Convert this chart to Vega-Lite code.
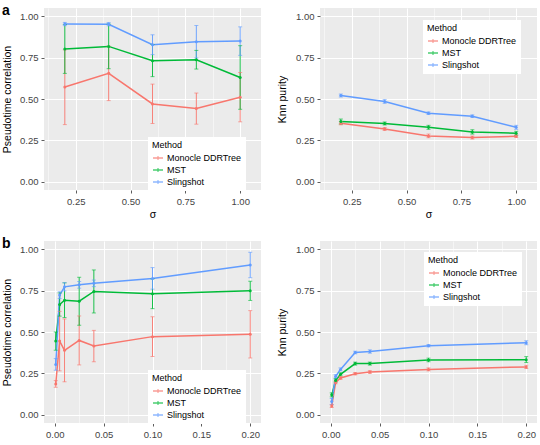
{
  "$schema": "https://vega.github.io/schema/vega-lite/v6.json",
  "padding": {"left": 2, "top": 3, "right": 0, "bottom": 0},
  "bounds": "flush",
  "columns": 2,
  "spacing": {"row": 51, "column": 59},
  "resolve": {"scale": {"color": "independent"}, "legend": {"color": "independent"}},
  "datasets": {
    "rows": [
      {"panel": "A", "method": "Monocle DDRTree", "x": 0.2, "y": 0.572, "lo": 0.345, "hi": 0.797},
      {"panel": "A", "method": "Monocle DDRTree", "x": 0.4, "y": 0.655, "lo": 0.49, "hi": 0.82},
      {"panel": "A", "method": "Monocle DDRTree", "x": 0.6, "y": 0.47, "lo": 0.352, "hi": 0.59},
      {"panel": "A", "method": "Monocle DDRTree", "x": 0.8, "y": 0.442, "lo": 0.348, "hi": 0.536},
      {"panel": "A", "method": "Monocle DDRTree", "x": 1.0, "y": 0.511, "lo": 0.362, "hi": 0.66},
      {"panel": "A", "method": "MST", "x": 0.2, "y": 0.802, "lo": 0.655, "hi": 0.95},
      {"panel": "A", "method": "MST", "x": 0.4, "y": 0.818, "lo": 0.683, "hi": 0.953},
      {"panel": "A", "method": "MST", "x": 0.6, "y": 0.731, "lo": 0.635, "hi": 0.83},
      {"panel": "A", "method": "MST", "x": 0.8, "y": 0.737, "lo": 0.681, "hi": 0.794},
      {"panel": "A", "method": "MST", "x": 1.0, "y": 0.63, "lo": 0.438, "hi": 0.822},
      {"panel": "A", "method": "Slingshot", "x": 0.2, "y": 0.953, "lo": 0.943, "hi": 0.963},
      {"panel": "A", "method": "Slingshot", "x": 0.4, "y": 0.952, "lo": 0.942, "hi": 0.962},
      {"panel": "A", "method": "Slingshot", "x": 0.6, "y": 0.828, "lo": 0.768, "hi": 0.888},
      {"panel": "A", "method": "Slingshot", "x": 0.8, "y": 0.846, "lo": 0.748, "hi": 0.944},
      {"panel": "A", "method": "Slingshot", "x": 1.0, "y": 0.85, "lo": 0.764, "hi": 0.936},

      {"panel": "B", "method": "Monocle DDRTree", "x": 0.2, "y": 0.354, "lo": 0.344, "hi": 0.364},
      {"panel": "B", "method": "Monocle DDRTree", "x": 0.4, "y": 0.319, "lo": 0.31, "hi": 0.328},
      {"panel": "B", "method": "Monocle DDRTree", "x": 0.6, "y": 0.277, "lo": 0.266, "hi": 0.288},
      {"panel": "B", "method": "Monocle DDRTree", "x": 0.8, "y": 0.267, "lo": 0.258, "hi": 0.276},
      {"panel": "B", "method": "Monocle DDRTree", "x": 1.0, "y": 0.275, "lo": 0.267, "hi": 0.283},
      {"panel": "B", "method": "MST", "x": 0.2, "y": 0.364, "lo": 0.349, "hi": 0.379},
      {"panel": "B", "method": "MST", "x": 0.4, "y": 0.352, "lo": 0.343, "hi": 0.361},
      {"panel": "B", "method": "MST", "x": 0.6, "y": 0.329, "lo": 0.317, "hi": 0.341},
      {"panel": "B", "method": "MST", "x": 0.8, "y": 0.301, "lo": 0.288, "hi": 0.314},
      {"panel": "B", "method": "MST", "x": 1.0, "y": 0.293, "lo": 0.281, "hi": 0.305},
      {"panel": "B", "method": "Slingshot", "x": 0.2, "y": 0.521, "lo": 0.512, "hi": 0.53},
      {"panel": "B", "method": "Slingshot", "x": 0.4, "y": 0.485, "lo": 0.474, "hi": 0.496},
      {"panel": "B", "method": "Slingshot", "x": 0.6, "y": 0.414, "lo": 0.406, "hi": 0.422},
      {"panel": "B", "method": "Slingshot", "x": 0.8, "y": 0.396, "lo": 0.388, "hi": 0.404},
      {"panel": "B", "method": "Slingshot", "x": 1.0, "y": 0.329, "lo": 0.317, "hi": 0.341},

      {"panel": "C", "method": "Monocle DDRTree", "x": 0.001, "y": 0.186, "lo": 0.166, "hi": 0.206},
      {"panel": "C", "method": "Monocle DDRTree", "x": 0.005, "y": 0.445, "lo": 0.265, "hi": 0.625},
      {"panel": "C", "method": "Monocle DDRTree", "x": 0.01, "y": 0.389, "lo": 0.199, "hi": 0.579},
      {"panel": "C", "method": "Monocle DDRTree", "x": 0.025, "y": 0.449, "lo": 0.301, "hi": 0.597},
      {"panel": "C", "method": "Monocle DDRTree", "x": 0.04, "y": 0.415, "lo": 0.32, "hi": 0.51},
      {"panel": "C", "method": "Monocle DDRTree", "x": 0.1, "y": 0.472, "lo": 0.352, "hi": 0.592},
      {"panel": "C", "method": "Monocle DDRTree", "x": 0.2, "y": 0.486, "lo": 0.343, "hi": 0.629},
      {"panel": "C", "method": "MST", "x": 0.001, "y": 0.445, "lo": 0.39, "hi": 0.5},
      {"panel": "C", "method": "MST", "x": 0.005, "y": 0.666, "lo": 0.596, "hi": 0.736},
      {"panel": "C", "method": "MST", "x": 0.01, "y": 0.692, "lo": 0.587, "hi": 0.797},
      {"panel": "C", "method": "MST", "x": 0.025, "y": 0.686, "lo": 0.541, "hi": 0.831},
      {"panel": "C", "method": "MST", "x": 0.04, "y": 0.745, "lo": 0.615, "hi": 0.875},
      {"panel": "C", "method": "MST", "x": 0.1, "y": 0.731, "lo": 0.641, "hi": 0.821},
      {"panel": "C", "method": "MST", "x": 0.2, "y": 0.749, "lo": 0.691, "hi": 0.807},
      {"panel": "C", "method": "Slingshot", "x": 0.001, "y": 0.304, "lo": 0.269, "hi": 0.339},
      {"panel": "C", "method": "Slingshot", "x": 0.005, "y": 0.723, "lo": 0.703, "hi": 0.743},
      {"panel": "C", "method": "Slingshot", "x": 0.01, "y": 0.773, "lo": 0.748, "hi": 0.798},
      {"panel": "C", "method": "Slingshot", "x": 0.025, "y": 0.785, "lo": 0.765, "hi": 0.805},
      {"panel": "C", "method": "Slingshot", "x": 0.04, "y": 0.794, "lo": 0.774, "hi": 0.814},
      {"panel": "C", "method": "Slingshot", "x": 0.1, "y": 0.824, "lo": 0.759, "hi": 0.889},
      {"panel": "C", "method": "Slingshot", "x": 0.2, "y": 0.905, "lo": 0.828, "hi": 0.982},

      {"panel": "D", "method": "Monocle DDRTree", "x": 0.001, "y": 0.052, "lo": 0.044, "hi": 0.06},
      {"panel": "D", "method": "Monocle DDRTree", "x": 0.005, "y": 0.195, "lo": 0.187, "hi": 0.203},
      {"panel": "D", "method": "Monocle DDRTree", "x": 0.01, "y": 0.222, "lo": 0.214, "hi": 0.23},
      {"panel": "D", "method": "Monocle DDRTree", "x": 0.025, "y": 0.248, "lo": 0.241, "hi": 0.255},
      {"panel": "D", "method": "Monocle DDRTree", "x": 0.04, "y": 0.258, "lo": 0.25, "hi": 0.266},
      {"panel": "D", "method": "Monocle DDRTree", "x": 0.1, "y": 0.274, "lo": 0.265, "hi": 0.283},
      {"panel": "D", "method": "Monocle DDRTree", "x": 0.2, "y": 0.289, "lo": 0.279, "hi": 0.299},
      {"panel": "D", "method": "MST", "x": 0.001, "y": 0.12, "lo": 0.108, "hi": 0.132},
      {"panel": "D", "method": "MST", "x": 0.005, "y": 0.207, "lo": 0.197, "hi": 0.217},
      {"panel": "D", "method": "MST", "x": 0.01, "y": 0.244, "lo": 0.235, "hi": 0.253},
      {"panel": "D", "method": "MST", "x": 0.025, "y": 0.309, "lo": 0.3, "hi": 0.318},
      {"panel": "D", "method": "MST", "x": 0.04, "y": 0.309, "lo": 0.3, "hi": 0.318},
      {"panel": "D", "method": "MST", "x": 0.1, "y": 0.331, "lo": 0.32, "hi": 0.342},
      {"panel": "D", "method": "MST", "x": 0.2, "y": 0.333, "lo": 0.315, "hi": 0.351},
      {"panel": "D", "method": "Slingshot", "x": 0.001, "y": 0.08, "lo": 0.062, "hi": 0.098},
      {"panel": "D", "method": "Slingshot", "x": 0.005, "y": 0.232, "lo": 0.222, "hi": 0.242},
      {"panel": "D", "method": "Slingshot", "x": 0.01, "y": 0.274, "lo": 0.265, "hi": 0.283},
      {"panel": "D", "method": "Slingshot", "x": 0.025, "y": 0.376, "lo": 0.368, "hi": 0.384},
      {"panel": "D", "method": "Slingshot", "x": 0.04, "y": 0.382, "lo": 0.372, "hi": 0.392},
      {"panel": "D", "method": "Slingshot", "x": 0.1, "y": 0.417, "lo": 0.41, "hi": 0.424},
      {"panel": "D", "method": "Slingshot", "x": 0.2, "y": 0.435, "lo": 0.423, "hi": 0.447}
    ]
  },
  "concat": [
    {
      "width": 217, "height": 182,
      "title": {"text": "a"},
      "data": {"name": "rows"},
      "transform": [{"filter": "datum.panel === 'A'"}],
      "encoding": {
        "x": {"field": "x", "type": "quantitative", "title": "σ",
          "scale": {"domain": [0.105, 1.095], "nice": false, "zero": false},
          "axis": {"values": [0.125, 0.25, 0.375, 0.5, 0.625, 0.75, 0.875, 1.0],
            "labelExpr": "round(datum.value*8)%2===1 ? '' : format(datum.value, '.2f')",
            "gridWidth": {"condition": {"test": "round(datum.value*8)%2===1", "value": 0.5}, "value": 1},
            "tickOpacity": {"condition": {"test": "round(datum.value*8)%2===1", "value": 0}, "value": 1},
            "titleY": 27, "titleBaseline": "alphabetic"}},
        "color": {"field": "method", "type": "nominal",
          "scale": {"domain": ["Monocle DDRTree", "MST", "Slingshot"], "range": ["#F8766D", "#00BA38", "#619CFF"]},
          "legend": {"title": "Method", "legendX": 104, "legendY": 129}}
      },
      "layer": [
        {"mark": {"type": "line", "strokeWidth": 1.5},
          "encoding": {"y": {"field": "y", "type": "quantitative", "title": "Pseudotime correlation",
            "scale": {"domain": [-0.05, 1.05], "nice": false, "zero": false},
            "axis": {"values": [0, 0.125, 0.25, 0.375, 0.5, 0.625, 0.75, 0.875, 1.0],
              "labelExpr": "round(datum.value*8)%2===1 ? '' : format(datum.value, '.2f')",
              "gridWidth": {"condition": {"test": "round(datum.value*8)%2===1", "value": 0.5}, "value": 1},
              "tickOpacity": {"condition": {"test": "round(datum.value*8)%2===1", "value": 0}, "value": 1},
              "titleX": -34, "titleBaseline": "alphabetic"}}}},
        {"mark": {"type": "rule", "strokeWidth": 0.9},
          "encoding": {"y": {"field": "lo", "type": "quantitative", "title": "Pseudotime correlation"}, "y2": {"field": "hi"}}},
        {"mark": {"type": "tick", "orient": "horizontal", "size": 4, "thickness": 0.9},
          "encoding": {"y": {"field": "lo", "type": "quantitative", "title": "Pseudotime correlation"}}},
        {"mark": {"type": "tick", "orient": "horizontal", "size": 4, "thickness": 0.9},
          "encoding": {"y": {"field": "hi", "type": "quantitative", "title": "Pseudotime correlation"}}},
        {"mark": {"type": "point", "filled": true, "size": 9, "opacity": 1},
          "encoding": {"y": {"field": "y", "type": "quantitative", "title": "Pseudotime correlation"}}}
      ]
    },
    {
      "width": 217, "height": 182,
      "data": {"name": "rows"},
      "transform": [{"filter": "datum.panel === 'B'"}],
      "encoding": {
        "x": {"field": "x", "type": "quantitative", "title": "σ",
          "scale": {"domain": [0.105, 1.095], "nice": false, "zero": false},
          "axis": {"values": [0.125, 0.25, 0.375, 0.5, 0.625, 0.75, 0.875, 1.0],
            "labelExpr": "round(datum.value*8)%2===1 ? '' : format(datum.value, '.2f')",
            "gridWidth": {"condition": {"test": "round(datum.value*8)%2===1", "value": 0.5}, "value": 1},
            "tickOpacity": {"condition": {"test": "round(datum.value*8)%2===1", "value": 0}, "value": 1},
            "titleY": 27, "titleBaseline": "alphabetic"}},
        "color": {"field": "method", "type": "nominal",
          "scale": {"domain": ["Monocle DDRTree", "MST", "Slingshot"], "range": ["#F8766D", "#00BA38", "#619CFF"]},
          "legend": {"title": "Method", "legendX": 103, "legendY": 12}}
      },
      "layer": [
        {"mark": {"type": "line", "strokeWidth": 1.5},
          "encoding": {"y": {"field": "y", "type": "quantitative", "title": "Knn purity",
            "scale": {"domain": [-0.05, 1.05], "nice": false, "zero": false},
            "axis": {"values": [0, 0.125, 0.25, 0.375, 0.5, 0.625, 0.75, 0.875, 1.0],
              "labelExpr": "round(datum.value*8)%2===1 ? '' : format(datum.value, '.2f')",
              "gridWidth": {"condition": {"test": "round(datum.value*8)%2===1", "value": 0.5}, "value": 1},
              "tickOpacity": {"condition": {"test": "round(datum.value*8)%2===1", "value": 0}, "value": 1},
              "titleX": -35, "titleBaseline": "alphabetic"}}}},
        {"mark": {"type": "rule", "strokeWidth": 0.9},
          "encoding": {"y": {"field": "lo", "type": "quantitative", "title": "Knn purity"}, "y2": {"field": "hi"}}},
        {"mark": {"type": "tick", "orient": "horizontal", "size": 4, "thickness": 0.9},
          "encoding": {"y": {"field": "lo", "type": "quantitative", "title": "Knn purity"}}},
        {"mark": {"type": "tick", "orient": "horizontal", "size": 4, "thickness": 0.9},
          "encoding": {"y": {"field": "hi", "type": "quantitative", "title": "Knn purity"}}},
        {"mark": {"type": "point", "filled": true, "size": 9, "opacity": 1},
          "encoding": {"y": {"field": "y", "type": "quantitative", "title": "Knn purity"}}}
      ]
    },
    {
      "width": 217, "height": 182,
      "title": {"text": "b"},
      "data": {"name": "rows"},
      "transform": [{"filter": "datum.panel === 'C'"}],
      "encoding": {
        "x": {"field": "x", "type": "quantitative", "title": "π",
          "scale": {"domain": [-0.011, 0.211], "nice": false, "zero": false},
          "axis": {"values": [0, 0.025, 0.05, 0.075, 0.1, 0.125, 0.15, 0.175, 0.2],
            "labelExpr": "round(datum.value*40)%2===1 ? '' : format(datum.value, '.2f')",
            "gridWidth": {"condition": {"test": "round(datum.value*40)%2===1", "value": 0.5}, "value": 1},
            "tickOpacity": {"condition": {"test": "round(datum.value*40)%2===1", "value": 0}, "value": 1},
            "titleY": 27, "titleBaseline": "alphabetic"}},
        "color": {"field": "method", "type": "nominal",
          "scale": {"domain": ["Monocle DDRTree", "MST", "Slingshot"], "range": ["#F8766D", "#00BA38", "#619CFF"]},
          "legend": {"title": "Method", "legendX": 104, "legendY": 129}}
      },
      "layer": [
        {"mark": {"type": "line", "strokeWidth": 1.5},
          "encoding": {"y": {"field": "y", "type": "quantitative", "title": "Pseudotime correlation",
            "scale": {"domain": [-0.05, 1.05], "nice": false, "zero": false},
            "axis": {"values": [0, 0.125, 0.25, 0.375, 0.5, 0.625, 0.75, 0.875, 1.0],
              "labelExpr": "round(datum.value*8)%2===1 ? '' : format(datum.value, '.2f')",
              "gridWidth": {"condition": {"test": "round(datum.value*8)%2===1", "value": 0.5}, "value": 1},
              "tickOpacity": {"condition": {"test": "round(datum.value*8)%2===1", "value": 0}, "value": 1},
              "titleX": -34, "titleBaseline": "alphabetic"}}}},
        {"mark": {"type": "rule", "strokeWidth": 0.9},
          "encoding": {"y": {"field": "lo", "type": "quantitative", "title": "Pseudotime correlation"}, "y2": {"field": "hi"}}},
        {"mark": {"type": "tick", "orient": "horizontal", "size": 4, "thickness": 0.9},
          "encoding": {"y": {"field": "lo", "type": "quantitative", "title": "Pseudotime correlation"}}},
        {"mark": {"type": "tick", "orient": "horizontal", "size": 4, "thickness": 0.9},
          "encoding": {"y": {"field": "hi", "type": "quantitative", "title": "Pseudotime correlation"}}},
        {"mark": {"type": "point", "filled": true, "size": 9, "opacity": 1},
          "encoding": {"y": {"field": "y", "type": "quantitative", "title": "Pseudotime correlation"}}}
      ]
    },
    {
      "width": 217, "height": 182,
      "data": {"name": "rows"},
      "transform": [{"filter": "datum.panel === 'D'"}],
      "encoding": {
        "x": {"field": "x", "type": "quantitative", "title": "π",
          "scale": {"domain": [-0.011, 0.211], "nice": false, "zero": false},
          "axis": {"values": [0, 0.025, 0.05, 0.075, 0.1, 0.125, 0.15, 0.175, 0.2],
            "labelExpr": "round(datum.value*40)%2===1 ? '' : format(datum.value, '.2f')",
            "gridWidth": {"condition": {"test": "round(datum.value*40)%2===1", "value": 0.5}, "value": 1},
            "tickOpacity": {"condition": {"test": "round(datum.value*40)%2===1", "value": 0}, "value": 1},
            "titleY": 27, "titleBaseline": "alphabetic"}},
        "color": {"field": "method", "type": "nominal",
          "scale": {"domain": ["Monocle DDRTree", "MST", "Slingshot"], "range": ["#F8766D", "#00BA38", "#619CFF"]},
          "legend": {"title": "Method", "legendX": 104, "legendY": 11}}
      },
      "layer": [
        {"mark": {"type": "line", "strokeWidth": 1.5},
          "encoding": {"y": {"field": "y", "type": "quantitative", "title": "Knn purity",
            "scale": {"domain": [-0.05, 1.05], "nice": false, "zero": false},
            "axis": {"values": [0, 0.125, 0.25, 0.375, 0.5, 0.625, 0.75, 0.875, 1.0],
              "labelExpr": "round(datum.value*8)%2===1 ? '' : format(datum.value, '.2f')",
              "gridWidth": {"condition": {"test": "round(datum.value*8)%2===1", "value": 0.5}, "value": 1},
              "tickOpacity": {"condition": {"test": "round(datum.value*8)%2===1", "value": 0}, "value": 1},
              "titleX": -35, "titleBaseline": "alphabetic"}}}},
        {"mark": {"type": "rule", "strokeWidth": 0.9},
          "encoding": {"y": {"field": "lo", "type": "quantitative", "title": "Knn purity"}, "y2": {"field": "hi"}}},
        {"mark": {"type": "tick", "orient": "horizontal", "size": 4, "thickness": 0.9},
          "encoding": {"y": {"field": "lo", "type": "quantitative", "title": "Knn purity"}}},
        {"mark": {"type": "tick", "orient": "horizontal", "size": 4, "thickness": 0.9},
          "encoding": {"y": {"field": "hi", "type": "quantitative", "title": "Knn purity"}}},
        {"mark": {"type": "point", "filled": true, "size": 9, "opacity": 1},
          "encoding": {"y": {"field": "y", "type": "quantitative", "title": "Knn purity"}}}
      ]
    }
  ],
  "config": {
    "font": "Liberation Sans",
    "background": "white",
    "view": {"fill": "#EBEBEB", "stroke": null},
    "axis": {
      "domain": false,
      "grid": true,
      "gridColor": "white",
      "tickColor": "#333333",
      "tickSize": 3,
      "tickWidth": 0.8,
      "labelPadding": 3,
      "labelFontSize": 9.5,
      "labelColor": "#444444",
      "labelOverlap": false,
      "labelFlush": false,
      "titleFontSize": 10.5,
      "titleFontWeight": "normal",
      "titleColor": "#000000"
    },
    "legend": {
      "orient": "none",
      "fillColor": "white",
      "padding": 4,
      "titleFontSize": 9,
      "titleFontWeight": "normal",
      "titleColor": "#000000",
      "titlePadding": 2,
      "labelFontSize": 9,
      "labelColor": "#000000",
      "labelOffset": 3,
      "rowPadding": 1,
      "symbolType": "M-1,0H1M0,-0.35V0.35",
      "symbolStrokeWidth": 1.5,
      "symbolFillColor": "transparent",
      "symbolSize": 100
    },
    "title": {
      "anchor": "start",
      "frame": "bounds",
      "fontSize": 14,
      "fontWeight": "bold",
      "color": "#000000",
      "offset": -9.5,
      "baseline": "alphabetic"
    }
  }
}
